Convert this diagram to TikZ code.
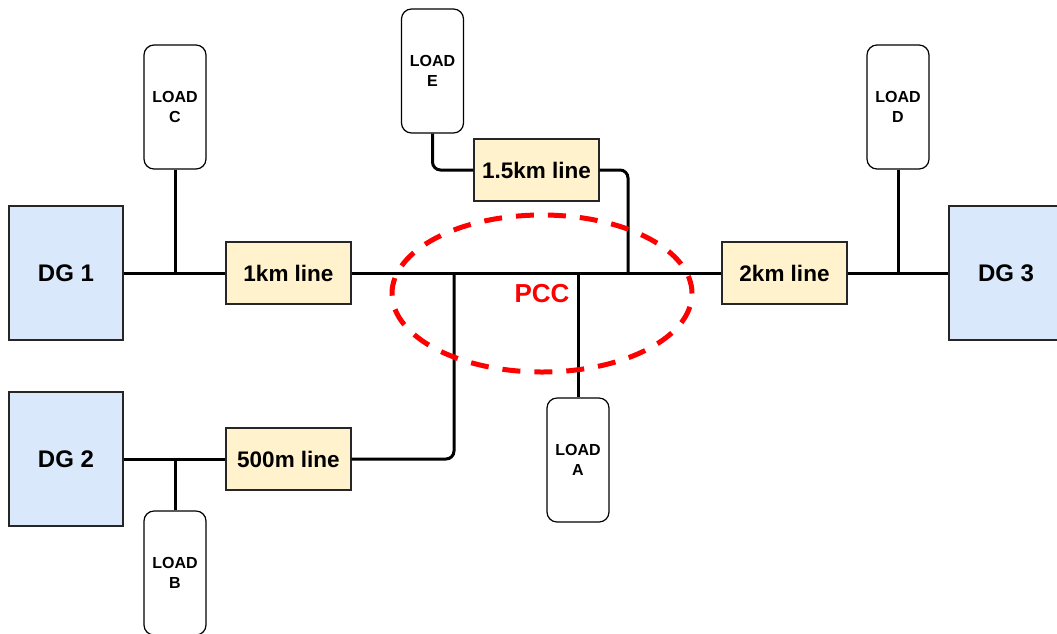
\documentclass[tikz,border=0pt]{standalone}
\usepackage{fontspec}
\setmainfont{Liberation Sans}
\usetikzlibrary{shapes.geometric,positioning,calc}
\definecolor{DGBlue}{RGB}{218, 232, 252}
\definecolor{LineYellow}{RGB}{255, 242, 204}
\definecolor{PCCRed}{RGB}{255, 0, 0}

\tikzset{
  dgbox/.style={draw=black!85, line width=1.2pt, fill=DGBlue, minimum width=114pt,
    minimum height=134pt, inner sep=0pt, font=\fontsize{24}{28}\selectfont\bfseries},
  linebox/.style={draw=black!85, line width=1.2pt, fill=LineYellow, minimum width=125pt,
    minimum height=62pt, inner sep=0pt, font=\fontsize{22.5}{26}\selectfont\bfseries},
  loadbox/.style={draw=black, line width=1.2pt, rounded corners=10pt, minimum width=62pt,
    minimum height=124pt, inner sep=0pt, align=center, font=\fontsize{16}{20}\selectfont\bfseries},
  wire/.style={line width=3pt, rounded corners=8pt},
}

\begin{document}
\begin{tikzpicture}[x=1pt, y=-1pt]
    \useasboundingbox (0,0) rectangle (1057,633);

    % sources
    \node[dgbox] (dg1) at (66,273) {DG 1};
    \node[dgbox] (dg2) at (66,459) {DG 2};
    \node[dgbox] (dg3) at (1006,273) {DG 3};

    % line segments
    \node[linebox] (l1km) at (288.5,273) {1km line};
    \node[linebox] (l500) at (288.5,459) {500m line};
    \node[linebox] (l15km) at (536.5,170) {1.5km line};
    \node[linebox] (l2km) at (784.5,273) {2km line};

    % loads
    \foreach \n/\x/\y in {A/578/460, B/175/573, C/175/107, D/898/107, E/432.5/71} {
      \node[loadbox] (load\n) at (\x,\y) {LOAD\\\n};
    }

    % bus taps
    \coordinate (tapE) at (628,273);
    \coordinate (tap500) at (454,273);

    \draw[wire] (dg1.east) -- (l1km.west);
    \draw[wire] (loadC.south) -- (loadC.south |- dg1.east);
    \draw[wire] (l1km.east) -- (l2km.west);
    \draw[wire] (l2km.east) -- (dg3.west);
    \draw[wire] (loadD.south) -- (loadD.south |- dg3.west);
    \draw[wire] (loadE.south) |- (l15km.west);
    \draw[wire] (l15km.east) -| (tapE);
    \draw[wire] (loadA.north) -- (loadA.north |- l1km.east);
    \draw[wire] (dg2.east) -- (l500.west);
    \draw[wire] (loadB.north) -- (loadB.north |- dg2.east);
    \draw[wire] (l500.east) -| (tap500);

    % point of common coupling
    \node[ellipse, draw=PCCRed, line width=5pt, dash pattern=on 18pt off 14pt,
      minimum width=300pt, minimum height=157pt, inner sep=0pt, text=PCCRed,
      font=\fontsize{26}{30}\selectfont\bfseries] (pcc) at (542,293.5) {PCC};
\end{tikzpicture}
\end{document}
